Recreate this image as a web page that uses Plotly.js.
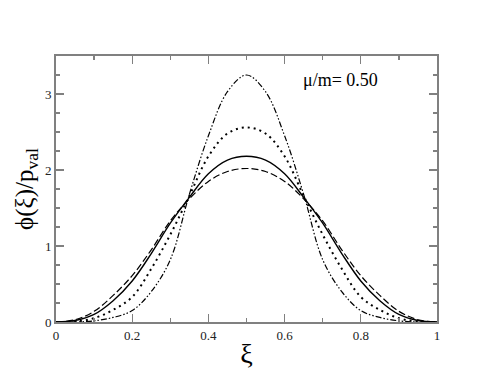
<!DOCTYPE html>
<html>
<head>
<meta charset="utf-8">
<script src="https://cdn.plot.ly/plotly-3.0.1.min.js"></script>
<style>
  html, body { margin: 0; padding: 0; background: #fff; }
  #plot { width: 491px; height: 379px; }
</style>
</head>
<body>
<div id="plot"></div>
<script>
// xi values and the four amplitudes
var xi = [0, 0.05, 0.1, 0.15, 0.2, 0.25, 0.3, 0.35, 0.4, 0.45, 0.5,
          0.55, 0.6, 0.65, 0.7, 0.75, 0.8, 0.85, 0.9, 0.95, 1];

var dashedPhi  = [0, 0.03, 0.14, 0.35, 0.61, 0.95, 1.33, 1.62, 1.85, 1.98, 2.02,
                  1.98, 1.85, 1.62, 1.33, 0.95, 0.61, 0.35, 0.14, 0.03, 0];
var solidPhi   = [0, 0.02, 0.10, 0.28, 0.54, 0.90, 1.30, 1.64, 1.95, 2.13, 2.18,
                  2.13, 1.95, 1.64, 1.30, 0.90, 0.54, 0.28, 0.10, 0.02, 0];
var dottedPhi  = [0, 0.005, 0.05, 0.16, 0.33, 0.70, 1.15, 1.66, 2.18, 2.48, 2.56,
                  2.48, 2.18, 1.66, 1.15, 0.70, 0.33, 0.16, 0.05, 0.005, 0];
var dashdotPhi = [0, 0, 0.015, 0.06, 0.15, 0.40, 0.82, 1.68, 2.45, 3.03, 3.25,
                  3.03, 2.45, 1.68, 0.82, 0.40, 0.15, 0.06, 0.015, 0, 0];

var xTicks = [0, 0.2, 0.4, 0.6, 0.8, 1];
var xTickText = ["0", "0.2", "0.4", "0.6", "0.8", "1"];
var yTicks = [0, 1, 2, 3];
var yTickText = ["0", "1", "2", "3"];

var serif = "Liberation Serif";

function curve(y, dash, width) {
    return {
        x: xi, y: y, type: "scatter", mode: "lines",
        line: {color: "#000", width: width, dash: dash, shape: "spline", smoothing: 1},
        hoverinfo: "skip", showlegend: false
    };
}

var data = [
    curve(dashedPhi, "7px,3px", 1.2),
    curve(solidPhi, "solid", 1.4),
    curve(dottedPhi, "2px,4px", 2),
    curve(dashdotPhi, "6px,2px,1.5px,2px,1.5px,2px", 1.2)
];

var axisCommon = {
    showgrid: false, zeroline: false,
    showline: true, linecolor: "#808080", linewidth: 2,
    mirror: "ticks", ticks: "inside", ticklen: 8, tickwidth: 1.3, tickcolor: "#808080",
    tickfont: {family: serif, size: 13, color: "#222"}
};

var layout = {
    width: 491, height: 379,
    margin: {l: 56, r: 54, t: 56, b: 57},
    paper_bgcolor: "#fff", plot_bgcolor: "#fff",
    font: {family: serif, color: "#000"},
    xaxis: Object.assign({}, axisCommon, {
        range: [0, 1], tickvals: xTicks, ticktext: xTickText,
        minor: {dtick: 0.1, ticklen: 4, tickwidth: 1.3, tickcolor: "#808080", ticks: "inside"},
        title: {text: "ξ", font: {family: serif, size: 28}, standoff: 2}
    }),
    yaxis: Object.assign({}, axisCommon, {
        range: [0, 3.5], tickvals: yTicks, ticktext: yTickText,
        minor: {dtick: 0.25, ticklen: 4, tickwidth: 1.3, tickcolor: "#808080", ticks: "inside"},
        title: {text: "ϕ(ξ)/p<sub>val</sub>", font: {family: serif, size: 25}, standoff: 4}
    }),
    annotations: [{
        x: 0.746, y: 3.18, xref: "x", yref: "y",
        text: "μ/m= 0.50", showarrow: false,
        font: {family: serif, size: 18, color: "#000"}
    }]
};

Plotly.newPlot("plot", data, layout, {staticPlot: true, displayModeBar: false});
</script>
</body>
</html>
